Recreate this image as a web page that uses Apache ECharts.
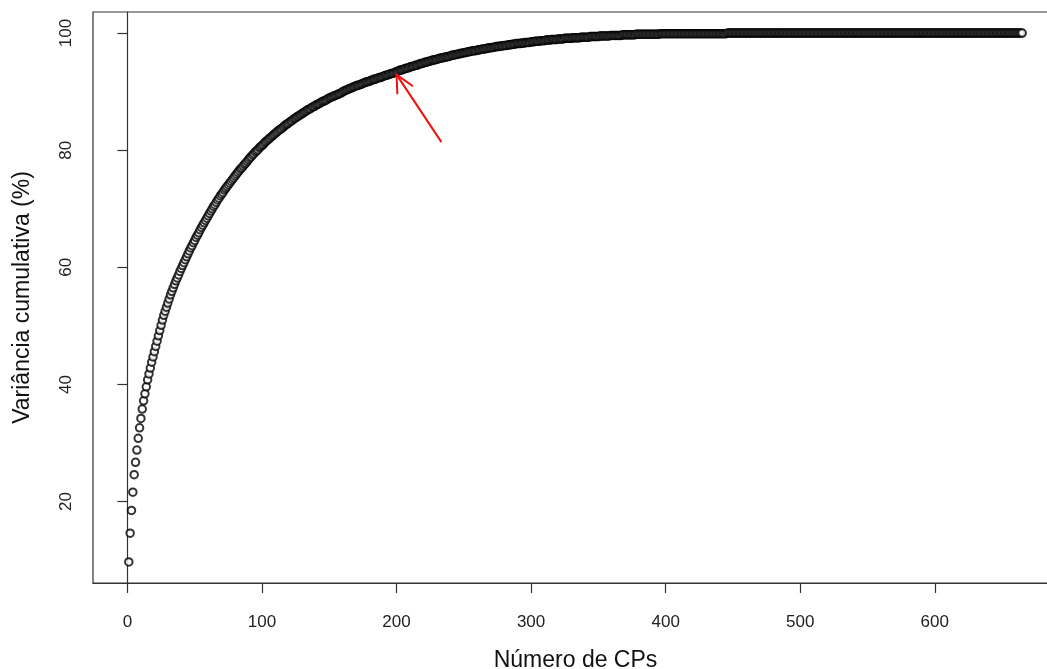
<!DOCTYPE html>
<html>
<head>
<meta charset="utf-8">
<script src="https://cdn.jsdelivr.net/npm/echarts@6/dist/echarts.min.js"></script>
<style>
  html, body { margin: 0; padding: 0; background: #fff; }
  #chartContainer { width: 1047px; height: 669px; }
</style>
</head>
<body>
<div id="chartContainer"></div>
<script>
// Cumulative variance (%) for each principal component (PC 1..665)
const varianceA = [
  9.7, 14.6, 18.5, 21.6, 24.6, 26.7, 28.8, 30.8, 32.6, 34.2,
  35.8, 37.2, 38.4, 39.6, 40.8, 41.8, 42.8, 43.8, 44.7, 45.6,
  46.5, 47.4, 48.3, 49.2, 50.1, 51.0, 51.8, 52.5, 53.2, 53.9,
  54.6, 55.3, 55.9, 56.5, 57.1, 57.7, 58.2, 58.7, 59.3, 59.8,
  60.3, 60.8, 61.3, 61.8, 62.3, 62.8, 63.3, 63.7, 64.2, 64.6,
  65.1, 65.5, 65.9, 66.4, 66.8, 67.2, 67.6, 68.0, 68.4, 68.8,
  69.2, 69.6, 70.0, 70.4, 70.7, 71.1, 71.5, 71.8, 72.2, 72.5,
  72.8, 73.2, 73.5, 73.8, 74.1, 74.4, 74.7, 75.0, 75.3, 75.6,
  75.9, 76.2, 76.5, 76.8, 77.0, 77.3, 77.6, 77.8, 78.1, 78.4,
  78.7, 78.9, 79.2, 79.4, 79.7, 79.9, 80.1, 80.4, 80.6, 80.8
];
const varianceB = [
  81.0, 81.3, 81.5, 81.7, 81.9, 82.1, 82.3, 82.5, 82.7, 82.9,
  83.1, 83.3, 83.5, 83.6, 83.8, 84.0, 84.2, 84.4, 84.5, 84.7,
  84.9, 85.0, 85.2, 85.4, 85.5, 85.7, 85.8, 86.0, 86.1, 86.3,
  86.4, 86.6, 86.7, 86.9, 87.0, 87.1, 87.3, 87.4, 87.5, 87.7,
  87.8, 87.9, 88.0, 88.2, 88.3, 88.4, 88.5, 88.6, 88.8, 88.9,
  89.0, 89.1, 89.2, 89.3, 89.4, 89.5, 89.6, 89.7, 89.8, 90.0,
  90.1, 90.2, 90.3, 90.4, 90.5, 90.6, 90.7, 90.8, 90.9, 91.0,
  91.1, 91.1, 91.2, 91.3, 91.4, 91.5, 91.6, 91.7, 91.7, 91.8,
  91.9, 92.0, 92.1, 92.1, 92.2, 92.3, 92.4, 92.4, 92.5, 92.6,
  92.7, 92.8, 92.8, 92.9, 93.0, 93.1, 93.1, 93.2, 93.3, 93.4
];
const varianceC = [
  93.5, 93.6, 93.7, 93.7, 93.8, 93.9, 94.0, 94.0, 94.1, 94.2,
  94.3, 94.3, 94.4, 94.5, 94.5, 94.6, 94.7, 94.8, 94.8, 94.9,
  95.0, 95.0, 95.1, 95.2, 95.2, 95.3, 95.4, 95.4, 95.5, 95.5,
  95.6, 95.7, 95.7, 95.8, 95.8, 95.9, 95.9, 96.0, 96.0, 96.1,
  96.2, 96.2, 96.3, 96.3, 96.4, 96.4, 96.5, 96.5, 96.6, 96.6,
  96.7, 96.7, 96.8, 96.8, 96.9, 96.9, 97.0, 97.0, 97.0, 97.1,
  97.1, 97.2, 97.2, 97.3, 97.3, 97.3, 97.4, 97.4, 97.5, 97.5,
  97.5, 97.6, 97.6, 97.7, 97.7, 97.7, 97.8, 97.8, 97.8, 97.9,
  97.9, 97.9, 98.0, 98.0, 98.0, 98.1, 98.1, 98.1, 98.2, 98.2,
  98.2, 98.2, 98.3, 98.3, 98.3, 98.4, 98.4, 98.4, 98.4, 98.5
];
const varianceD = [
  98.5, 98.5, 98.6, 98.6, 98.6, 98.6, 98.7, 98.7, 98.7, 98.7,
  98.8, 98.8, 98.8, 98.8, 98.9, 98.9, 98.9, 98.9, 98.9, 99.0,
  99.0, 99.0, 99.0, 99.0, 99.1, 99.1, 99.1, 99.1, 99.1, 99.1,
  99.2, 99.2, 99.2, 99.2, 99.2, 99.2, 99.3, 99.3, 99.3, 99.3,
  99.3, 99.3, 99.3, 99.4, 99.4, 99.4, 99.4, 99.4, 99.4, 99.4,
  99.5, 99.5, 99.5, 99.5, 99.5, 99.5, 99.5, 99.5, 99.6, 99.6,
  99.6, 99.6, 99.6, 99.6, 99.6, 99.6, 99.6, 99.7, 99.7, 99.7,
  99.7, 99.7, 99.7, 99.7, 99.7, 99.7, 99.7, 99.8, 99.8, 99.8,
  99.8, 99.8, 99.8, 99.8, 99.8, 99.8, 99.8, 99.8, 99.8, 99.8,
  99.8, 99.8, 99.8, 99.8, 99.8, 99.9, 99.9, 99.9, 99.9, 99.9
];
const varianceE = [
  99.9, 99.9, 99.9, 99.9, 99.9, 99.9, 99.9, 99.9, 99.9, 99.9,
  99.9, 99.9, 99.9, 99.9, 99.9, 99.9, 99.9, 99.9, 99.9, 99.9,
  99.9, 99.9, 99.9, 99.9, 99.9, 99.9, 99.9, 99.9, 99.9, 99.9,
  99.9, 99.9, 99.9, 99.9, 99.9, 99.9, 99.9, 99.9, 99.9, 99.9,
  99.9, 99.9, 99.9, 99.9, 99.9, 100, 100, 100, 100, 100,
  100, 100, 100, 100, 100, 100, 100, 100, 100, 100,
  100, 100, 100, 100, 100, 100, 100, 100, 100, 100,
  100, 100, 100, 100, 100, 100, 100, 100, 100, 100,
  100, 100, 100, 100, 100, 100, 100, 100, 100, 100,
  100, 100, 100, 100, 100, 100, 100, 100, 100, 100
];
const varianceF = [
  100, 100, 100, 100, 100, 100, 100, 100, 100, 100,
  100, 100, 100, 100, 100, 100, 100, 100, 100, 100,
  100, 100, 100, 100, 100, 100, 100, 100, 100, 100,
  100, 100, 100, 100, 100, 100, 100, 100, 100, 100,
  100, 100, 100, 100, 100, 100, 100, 100, 100, 100,
  100, 100, 100, 100, 100, 100, 100, 100, 100, 100,
  100, 100, 100, 100, 100, 100, 100, 100, 100, 100,
  100, 100, 100, 100, 100, 100, 100, 100, 100, 100,
  100, 100, 100, 100, 100, 100, 100, 100, 100, 100,
  100, 100, 100, 100, 100, 100, 100, 100, 100, 100
];
const varianceG = [
  100, 100, 100, 100, 100, 100, 100, 100, 100, 100,
  100, 100, 100, 100, 100, 100, 100, 100, 100, 100,
  100, 100, 100, 100, 100, 100, 100, 100, 100, 100,
  100, 100, 100, 100, 100, 100, 100, 100, 100, 100,
  100, 100, 100, 100, 100, 100, 100, 100, 100, 100,
  100, 100, 100, 100, 100, 100, 100, 100, 100, 100,
  100, 100, 100, 100, 100
];

// Tick labels
const xTicks = [0, 100, 200, 300, 400, 500, 600];
const yTicks = [20, 40, 60, 80, 100];

// Red arrow (PC number, cumulative %): shaft tail, tip and the two barb ends
const arrowTail = [233, 81.5];
const arrowTip = [200, 92.9];
const arrowBarbA = [200.6, 89.7];
const arrowBarbB = [211.7, 91.0];

const cumVariance = [].concat(varianceA, varianceB, varianceC, varianceD, varianceE, varianceF, varianceG);
const points = cumVariance.map((v, i) => [i + 1, v]);

const chart = echarts.init(document.getElementById('chartContainer'));

const font = 'Liberation Sans, Arial, Helvetica, sans-serif';

const options = {
  animation: false,
  backgroundColor: '#fff',
  grid: {
    left: 93,
    top: 12,
    width: 965,
    height: 571,
    show: true,
    borderColor: '#333',
    borderWidth: 1.2,
    containLabel: false,
    outerBoundsMode: 'none'
  },
  xAxis: {
    type: 'value',
    min: -25.6,
    max: 691.6,
    name: 'Número de CPs',
    nameLocation: 'middle',
    nameGap: 66,
    nameTextStyle: { fontFamily: font, fontSize: 23, color: '#111' },
    axisLine: { show: true, lineStyle: { color: '#333', width: 1.2 } },
    axisTick: { show: true, inside: false, length: 10, customValues: xTicks, lineStyle: { color: '#333', width: 1.2 } },
    axisLabel: { customValues: xTicks, margin: 31, fontFamily: font, fontSize: 17, color: '#222' },
    splitLine: { show: false }
  },
  yAxis: {
    type: 'value',
    min: 6.1,
    max: 103.6,
    name: 'Variância cumulativa (%)',
    nameLocation: 'middle',
    nameGap: 59,
    nameTextStyle: { fontFamily: font, fontSize: 23, color: '#111' },
    axisLine: { show: true, lineStyle: { color: '#333', width: 1.2 } },
    axisTick: { show: true, inside: false, length: 10, customValues: yTicks, lineStyle: { color: '#333', width: 1.2 } },
    axisLabel: { customValues: yTicks, rotate: 90, margin: 18, fontFamily: font, fontSize: 17, color: '#222' },
    splitLine: { show: false }
  },
  series: [
    {
      type: 'scatter',
      data: points,
      symbol: 'emptyCircle',
      symbolSize: 7.5,
      itemStyle: { color: '#000', borderColor: '#000', borderWidth: 1.2 },
      markLine: {
        silent: true,
        animation: false,
        label: { show: false },
        symbol: ['none', 'none'],
        lineStyle: { color: '#f01010', width: 2, type: 'solid', cap: 'round' },
        data: [
          [{ coord: arrowTail }, { coord: arrowTip }],
          [{ coord: arrowBarbA }, { coord: arrowTip }],
          [{ coord: arrowBarbB }, { coord: arrowTip }]
        ]
      }
    }
  ]
};

chart.setOption(options);
</script>
</body>
</html>
